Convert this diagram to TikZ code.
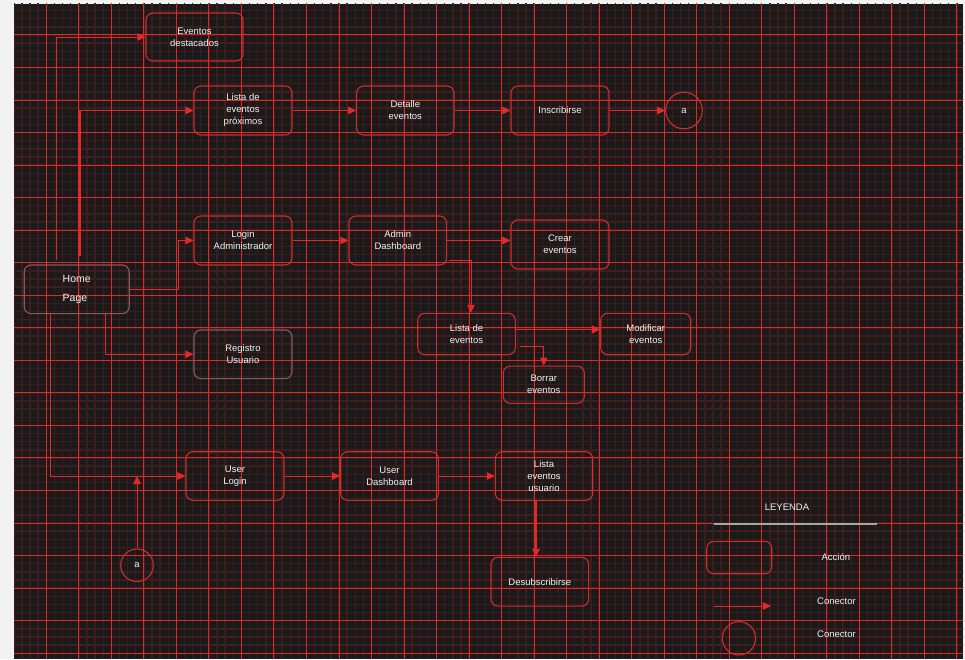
\documentclass[tikz,border=0pt]{standalone}
\usepackage{fontspec}
\setmainfont{Liberation Sans}
\usetikzlibrary{arrows.meta, positioning, calc}
\definecolor{fondo}{HTML}{1A1A1A}
\definecolor{mayor}{HTML}{E32626}
\definecolor{menor}{HTML}{3C1E1E}
\definecolor{borde}{HTML}{CC2E2E}
\definecolor{bordegris}{HTML}{8A5A5A}
\definecolor{flecha}{HTML}{E32A2A}
\definecolor{texto}{HTML}{F2F2F2}

\begin{document}
\begin{tikzpicture}[x=1pt, y=-1pt,
        accion/.style={draw=borde, line width=1.1pt, rounded corners=7pt, minimum width=98pt,
                       minimum height=49pt, align=center, text=texto, inner sep=2pt,
                       font=\fontsize{9.5}{12}\selectfont},
        conector/.style={circle, draw=borde, line width=1.1pt, text=texto, inner sep=0pt,
                         font=\fontsize{9.5}{12}\selectfont},
        arr/.style={-{Triangle[length=8pt,width=7.5pt]}, flecha, line width=1pt},
        leyenda/.style={text=texto, font=\fontsize{9.5}{12}\selectfont}
    ]
        % fondo y cuadricula
        \useasboundingbox (0,0) rectangle (965,659);
        \fill[black!5] (0,0) rectangle (965,659);
        \fill[fondo] (14,3.5) rectangle (963,659);
        \begin{scope}
            \clip (14,3.5) rectangle (963,659);
            \foreach \i in {0,...,117} \draw[menor, line width=1.4pt] ({13.8+8.13*\i},0) -- ++(0,659);
            \foreach \j in {0,...,81} \draw[menor, line width=1.4pt] (0,{2.4+8.135*\j}) -- ++(965,0);
            \foreach \i in {0,...,29} \draw[mayor, line width=1pt] ({13.8+32.52*\i},0) -- ++(0,659);
            \foreach \j in {0,...,20} \draw[mayor, line width=1pt] (0,{2.4+32.54*\j}) -- ++(965,0);
        \end{scope}

        % acciones
        \node[accion, draw=bordegris, minimum width=105pt, minimum height=48.7pt, align=left,
              font=\fontsize{10.5}{19}\selectfont] (home) at (76.7,289.3) {Home\\Page};
        \node[accion, minimum width=97pt, minimum height=48pt] (destacados) at (194.5,37) {Eventos\\destacados};
        \node[accion] (proximos) at (243,110.5) {Lista de\\eventos\\próximos};
        \node[accion, minimum width=97.3pt] (detalle) at (405.3,110.5) {Detalle\\eventos};
        \node[accion] (inscribirse) at (560,110.5) {Inscribirse};
        \node[conector, minimum size=36.6pt] (conA1) at (684,110.5) {a};
        \node[accion] (loginadmin) at (243,240.5) {Login\\Administrador};
        \node[accion, minimum width=97.7pt] (admindash) at (397.8,240.5) {Admin\\Dashboard};
        \node[accion] (crear) at (560,244.5) {Crear\\eventos};
        \node[accion, draw=bordegris, minimum height=48.7pt] (registro) at (243,354.3) {Registro\\Usuario};
        \node[accion, minimum width=97.6pt, minimum height=41.4pt] (listaeventos) at (466.5,334) {Lista de\\eventos};
        \node[accion, minimum width=90pt, minimum height=41.4pt] (modificar) at (645.7,334) {Modificar\\eventos};
        \node[accion, minimum width=81pt, minimum height=37.3pt] (borrar) at (543.8,384.7) {Borrar\\eventos};
        \node[accion, minimum height=48.6pt] (userlogin) at (235,476) {User\\Login};
        \node[accion, minimum width=97.6pt, minimum height=48.6pt] (userdash) at (389.5,476) {User\\Dashboard};
        \node[accion, minimum width=97.4pt, minimum height=48.6pt] (listausuario) at (544,476) {Lista\\eventos\\usuario};
        \node[accion, minimum width=97.7pt, minimum height=48.7pt] (desub) at (539.8,581.7) {Desubscribirse};
        \node[conector, minimum size=32.6pt] (conA2) at (137,565.3) {a};

        % conectores desde Home
        \draw[arr] ([xshift=-20pt,yshift=4pt]home.north) |- (destacados.west);
        \draw[arr, line width=1.8pt] ([xshift=3.6pt,yshift=8pt]home.north) |- (proximos.west);
        \draw[arr] (home.east) -- ++(48.4,0) |- (loginadmin.west);
        \draw[arr] ([xshift=28.6pt]home.south) |- (registro.west);
        \draw[arr] ([xshift=-26.7pt]home.south) |- (userlogin.west);
        \draw[arr] (conA2.north) -- (conA2.north |- userlogin.west);

        % flujo de eventos
        \draw[arr] (proximos.east) -- (detalle.west);
        \draw[arr] (detalle.east) -- (inscribirse.west);
        \draw[arr] (inscribirse.east) -- (conA1.west);

        % flujo administrador
        \draw[arr] (loginadmin.east) -- (admindash.west);
        \draw[arr] (admindash.east) -- (admindash.east -| crear.west);
        \draw[arr] ([xshift=1.5pt,yshift=5pt]admindash.south east) -| ([xshift=4.5pt]listaeventos.north);
        \draw[arr, line width=1.8pt] ([yshift=4.5pt]listaeventos.east) -- ([yshift=4.5pt]listaeventos.east -| modificar.west);
        \draw[arr] ([xshift=4pt,yshift=-12pt]listaeventos.east) -| (borrar.north);

        % flujo usuario
        \draw[arr] (userlogin.east) -- (userdash.west);
        \draw[arr] (userdash.east) -- (listausuario.west);
        \draw[arr, line width=1.8pt] ([xshift=-8pt]listausuario.south) -- ([xshift=-3.8pt]desub.north);

        % leyenda
        \node[leyenda] (leytitulo) at (787,507.3) {LEYENDA};
        \coordinate (leylineaA) at (714,524.3);
        \coordinate (leylineaB) at (877,524.3);
        \draw[gray!70, line width=2pt] (leylineaA) -- (leylineaB);
        \node[accion, minimum width=65pt, minimum height=32.4pt] (leycaja) at (739.2,557.5) {};
        \node[leyenda] (leyaccion) at (835.8,556.7) {Acción};
        \coordinate (leyflechaA) at (714,606);
        \coordinate (leyflechaB) at (771,606);
        \draw[arr] (leyflechaA) -- (leyflechaB);
        \node[leyenda] (leyconector) at (836.5,601.7) {Conector};
        \node[conector, minimum size=33.4pt] (leycirculo) at (739,638.3) {};
        \node[leyenda] (leyconectordos) at (836.5,634.7) {Conector};
    \end{tikzpicture}
\end{document}
